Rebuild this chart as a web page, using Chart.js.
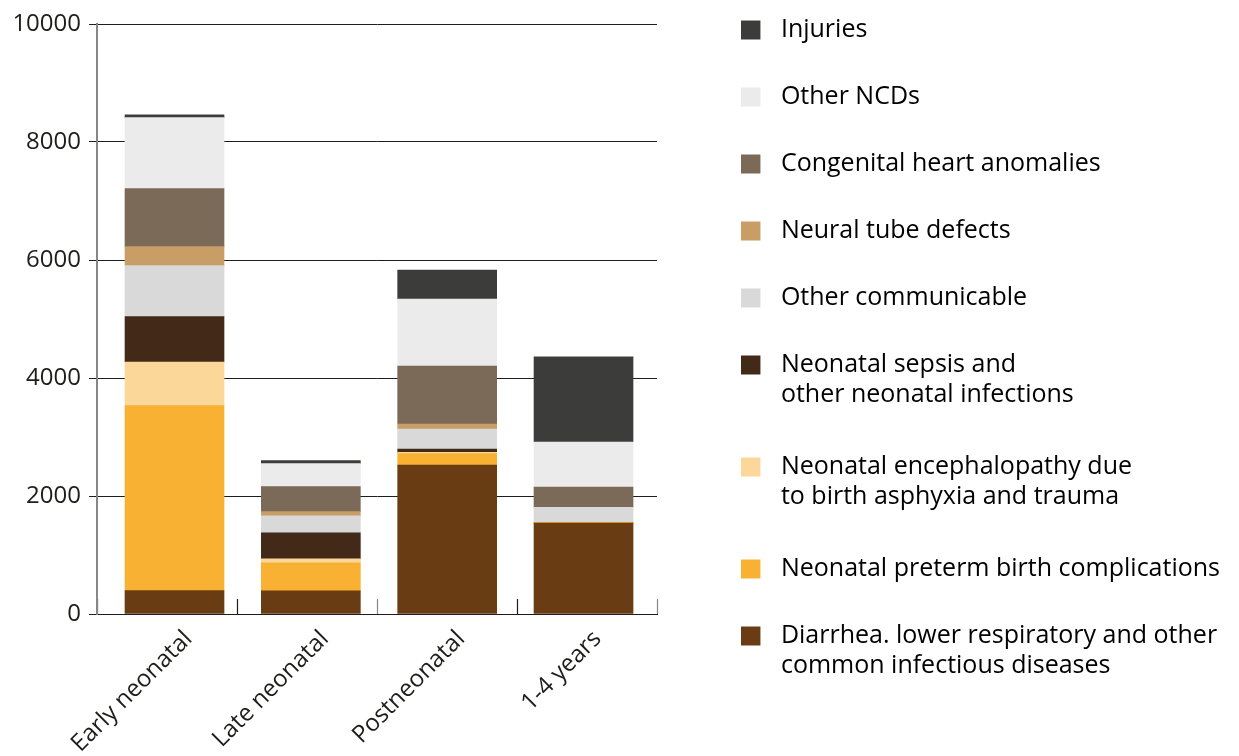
<!DOCTYPE html>
<html>
<head>
<meta charset="utf-8">
<script src="https://cdn.jsdelivr.net/npm/chart.js@4.4.1/dist/chart.umd.min.js"></script>
<style>
html, body { margin: 0; padding: 0; background: #ffffff; }
#wrap { width: 1239px; height: 756px; position: relative; }
</style>
</head>
<body>
<div id="wrap"><canvas id="chart" width="1239" height="756"></canvas></div>
<script>
// ---- Data ----
const categories = ['Early neonatal', 'Late neonatal', 'Postneonatal', '1-4 years'];

const diarrhea        = [395, 391, 2525, 1540];
const pretermBirth    = [3136, 476, 193, 15];
const encephalopathy  = [740, 68, 22, 0];
const neonatalSepsis  = [769, 442, 57, 0];
const otherCommunic   = [864, 289, 339, 255];
const neuralTube      = [322, 68, 84, 0];
const congenitalHeart = [983, 425, 983, 340];
const otherNCDs       = [1203, 391, 1136, 765];
const injuries        = [50, 50, 492, 1445];

const seriesLabels = [
  ['Diarrhea. lower respiratory and other', 'common infectious diseases'],
  'Neonatal preterm birth complications',
  ['Neonatal encephalopathy due', 'to birth asphyxia and trauma'],
  ['Neonatal sepsis and', 'other neonatal infections'],
  'Other communicable',
  'Neural tube defects',
  'Congenital heart anomalies',
  'Other NCDs',
  'Injuries'
];
const seriesValues = [diarrhea, pretermBirth, encephalopathy, neonatalSepsis,
  otherCommunic, neuralTube, congenitalHeart, otherNCDs, injuries];
const seriesColors = ['#693c13', '#f8b133', '#fbd899', '#432918', '#d9d9d9',
  '#c99d66', '#7b6a58', '#ebebeb', '#3c3c3b'];

const yTickValues = [0, 2000, 4000, 6000, 8000, 10000];
const boundaryTicks = [0, 1, 2, 3, 4];   // small inward marks between categories

// ---- Styling / layout constants ----
const FONT = '"Open Sans", "Noto Sans", sans-serif';
const TEXT = '#1d1d1b';
const LEGEND_SIZE = 25;
const LEGEND_PAD = 42;
const SWATCH_W = 27;
const PLOT_LEFT = 97, PLOT_RIGHT = 657, PLOT_TOP = 24, PLOT_BOTTOM = 614;
const PAD_TOP = -24.5, PAD_RIGHT = 9;

// legend swatches (19px squares on a wider canvas so the text sits further right)
function makeSwatch(color) {
  const c = document.createElement('canvas');
  c.width = SWATCH_W; c.height = 21;
  const g = c.getContext('2d');
  g.fillStyle = color;
  g.fillRect(0, 1, 19, 19);
  return c;
}
const swatches = seriesColors.map(makeSwatch);

// measure legend width the same way Chart.js does, to place the legend precisely
const mctx = document.createElement('canvas').getContext('2d');
mctx.font = LEGEND_SIZE + 'px ' + FONT;
let maxText = 0;
seriesLabels.forEach(t => {
  const s = Array.isArray(t) ? t.reduce((a, b) => a.length > b.length ? a : b) : t;
  maxText = Math.max(maxText, mctx.measureText(s).width);
});
const legendWidth = LEGEND_PAD + SWATCH_W + LEGEND_SIZE / 2 + maxText + 10;
const legendLeft = 1239 - PAD_RIGHT - legendWidth;
const gapRight = Math.max(0, legendLeft - PLOT_RIGHT);

// x is a linear index axis so bar centres match the reference
const xMin = -0.5685, xMax = 3.539;

const datasets = seriesValues.map((vals, i) => ({
  label: Array.isArray(seriesLabels[i]) ? seriesLabels[i].join(' ') : seriesLabels[i],
  data: vals.map((v, k) => ({ x: k, y: v })),
  xAxisID: 'x',
  yAxisID: 'y',
  backgroundColor: seriesColors[i],
  borderWidth: 0,
  barThickness: 99,
  grouped: false
}));

new Chart(document.getElementById('chart'), {
  type: 'bar',
  data: { datasets },
  options: {
    responsive: false,
    animation: false,
    devicePixelRatio: 1,
    layout: { padding: { top: PAD_TOP, right: PAD_RIGHT, left: 0, bottom: 0 } },
    plugins: {
      tooltip: { enabled: false },
      legend: {
        position: 'right',
        align: 'start',
        reverse: true,
        maxWidth: 800,
        labels: {
          usePointStyle: true,
          pointStyleWidth: SWATCH_W,
          padding: LEGEND_PAD,
          color: TEXT,
          font: { family: FONT, size: LEGEND_SIZE, lineHeight: 30 / LEGEND_SIZE },
          generateLabels: (chart) => chart.data.datasets.map((ds, i) => ({
            text: seriesLabels[i],
            fillStyle: ds.backgroundColor,
            strokeStyle: ds.backgroundColor,
            lineWidth: 0,
            pointStyle: swatches[i],
            hidden: !chart.isDatasetVisible(i),
            datasetIndex: i
          }))
        }
      }
    },
    scales: {
      x: {
        type: 'linear',
        position: 'bottom',
        weight: 1,
        offset: false,
        min: xMin,
        max: xMax,
        afterBuildTicks: (s) => { s.ticks = categories.map((c, i) => ({ value: i })); },
        afterFit: (s) => { s.height = 756 - PLOT_BOTTOM; },
        grid: { display: false, offset: false },
        border: { display: true, color: TEXT, width: 1 },
        ticks: {
          autoSkip: false,
          minRotation: 45,
          maxRotation: 45,
          padding: 3,
          labelOffset: 14,
          color: TEXT,
          font: { family: FONT, size: 24 },
          callback: (v) => categories[v]
        }
      },
      xMarks: {
        type: 'linear',
        axis: 'x',
        position: 'bottom',
        weight: 0,
        offset: false,
        min: 0,
        max: 4,
        afterBuildTicks: (s) => { s.ticks = boundaryTicks.map(v => ({ value: v })); },
        afterFit: (s) => { s.height = 0; },
        grid: {
          display: true,
          offset: false,
          drawOnChartArea: false,
          drawTicks: true,
          tickLength: -15,
          tickWidth: 1.2,
          tickColor: ['#1d1d1b', '#1d1d1b', '#878787', '#1d1d1b', '#878787']
        },
        border: { display: false },
        ticks: { display: false }
      },
      xTop: {
        type: 'linear',
        axis: 'x',
        position: 'top',
        display: true,
        grid: { display: false },
        border: { display: false },
        ticks: { display: false },
        afterFit: (s) => { s.height = PLOT_TOP - PAD_TOP; }
      },
      y: {
        stacked: true,
        min: 0,
        max: 10000,
        afterBuildTicks: (s) => { s.ticks = yTickValues.map(v => ({ value: v })); },
        afterFit: (s) => { s.width = PLOT_LEFT; },
        grid: { color: TEXT, lineWidth: 1, tickLength: 8, tickColor: TEXT },
        border: { display: true, color: '#878787', width: 2 },
        ticks: {
          padding: 8,
          color: TEXT,
          font: { family: FONT, size: 24 },
          callback: (v) => String(v)
        }
      },
      yGap: {
        type: 'linear',
        axis: 'y',
        position: 'right',
        display: true,
        grid: { display: false },
        border: { display: false },
        ticks: { display: false },
        afterFit: (s) => { s.width = gapRight; }
      }
    }
  }
});
</script>
</body>
</html>
